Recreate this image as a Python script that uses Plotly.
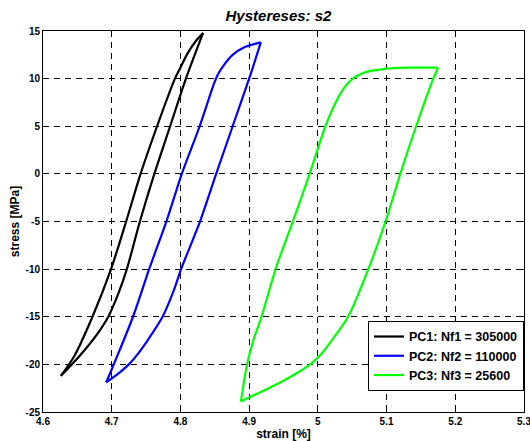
import plotly.graph_objects as go

# ---- data ----
# each loop: from the lower tip up the loading branch to the upper tip, then back down
pc1_strain = [4.626, 4.641, 4.664, 4.682, 4.695, 4.710, 4.722, 4.741, 4.762, 4.785, 4.808, 4.833,
              4.823, 4.810, 4.799, 4.792, 4.766, 4.742, 4.721, 4.699, 4.672, 4.645, 4.626]
pc1_stress = [-21.2, -20.1, -18.2, -16.5, -15.0, -12.5, -10.0, -5.0, 0.0, 5.0, 10.0, 14.8,
              14.0, 12.6, 11.0, 10.0, 5.0, 0.0, -5.0, -10.0, -15.0, -19.2, -21.2]

pc2_strain = [4.692, 4.709, 4.725, 4.737, 4.752, 4.774, 4.789, 4.801, 4.829, 4.852, 4.876, 4.900, 4.917,
              4.893, 4.876, 4.864, 4.855, 4.849, 4.828, 4.802, 4.780, 4.755, 4.731, 4.703, 4.692]
pc2_stress = [-21.9, -21.0, -20.0, -19.0, -17.5, -15.0, -12.5, -10.0, -4.9, 0.0, 5.0, 10.0, 13.8,
              13.3, 12.5, 11.5, 10.5, 9.5, 5.0, 0.0, -4.9, -9.9, -15.0, -20.0, -21.9]

pc3_strain = [4.888, 4.897, 4.906, 4.918, 4.939, 4.964, 4.988, 5.011, 5.026, 5.038, 5.051,
              5.066, 5.095, 5.134, 5.175, 5.168, 5.143, 5.120, 5.099, 5.074, 5.044, 5.020,
              5.004, 4.989, 4.972, 4.948, 4.888]
pc3_stress = [-23.9, -20.0, -17.5, -15.0, -9.9, -4.9, 0.0, 5.0, 7.5, 9.0, 10.0,
              10.6, 11.0, 11.15, 11.15, 10.0, 5.0, 0.0, -4.9, -9.9, -15.0, -17.5,
              -19.0, -20.0, -20.8, -21.8, -23.9]

series_names = ["PC1: Nf1 = 305000", "PC2: Nf2 = 110000", "PC3: Nf3 = 25600"]
series_colors = ["#000000", "#0000ff", "#00ff00"]

x_tickvals = [4.6, 4.7, 4.8, 4.9, 5.0, 5.1, 5.2, 5.3]
x_ticktext = ["4.6", "4.7", "4.8", "4.9", "5", "5.1", "5.2", "5.3"]
y_tickvals = [15, 10, 5, 0, -5, -10, -15, -20, -25]
y_ticktext = ["15", "10", "5", "0", "-5", "-10", "-15", "-20", "-25"]

FONT = "Liberation Sans, Arial, sans-serif"

fig = go.Figure()
for xs, ys, name, col in zip([pc1_strain, pc2_strain, pc3_strain],
                             [pc1_stress, pc2_stress, pc3_stress],
                             series_names, series_colors):
    # split the loop at its upper-right tip (max strain) so both tips stay sharp
    k = xs.index(max(xs))
    branches = [(xs[:k + 1], ys[:k + 1]), (xs[k:], ys[k:])]
    for i, (bx, by) in enumerate(branches):
        fig.add_trace(go.Scatter(x=bx, y=by, mode="lines", name=name,
                                 legendgroup=name, showlegend=(i == 0),
                                 line=dict(color=col, width=2.2,
                                           shape="spline", smoothing=0.8)))

axis_common = dict(
    showline=True, linecolor="black", linewidth=1, mirror="ticks",
    ticks="inside", ticklen=5, tickcolor="black", tickwidth=1,
    showgrid=True, gridcolor="black", gridwidth=1, griddash="6px,5px",
    zeroline=False, ticklabeloverflow="allow",
    tickfont=dict(family=FONT, size=10, color="black", weight="bold"),
)

fig.update_layout(
    width=530, height=441,
    margin=dict(l=43, r=6, t=31, b=29, autoexpand=False),
    paper_bgcolor="white", plot_bgcolor="white",
    title=dict(text="<b><i>Hystereses: s2</i></b>", x=278.5 / 530, xref="container",
               xanchor="center", y=1 - 16 / 441, yanchor="middle",
               font=dict(family=FONT, size=15, color="black")),
    xaxis=dict(range=[4.6, 5.3], tickvals=x_tickvals, ticktext=x_ticktext,
               title=dict(text="<b>strain [%]</b>", standoff=1,
                          font=dict(family=FONT, size=12, color="black")),
               **axis_common),
    yaxis=dict(range=[-25, 15], tickvals=y_tickvals, ticktext=y_ticktext,
               title=dict(text="<b>stress [MPa]</b>", standoff=3,
                          font=dict(family=FONT, size=12, color="black")),
               **axis_common),
    legend=dict(x=1, xanchor="right", y=0.0554, yanchor="bottom",
                bordercolor="black", borderwidth=1, bgcolor="white",
                font=dict(family=FONT, size=12.5, color="black", weight="bold"),
                itemwidth=30, tracegroupgap=0),
    showlegend=True,
)

fig.write_html("out.html")
